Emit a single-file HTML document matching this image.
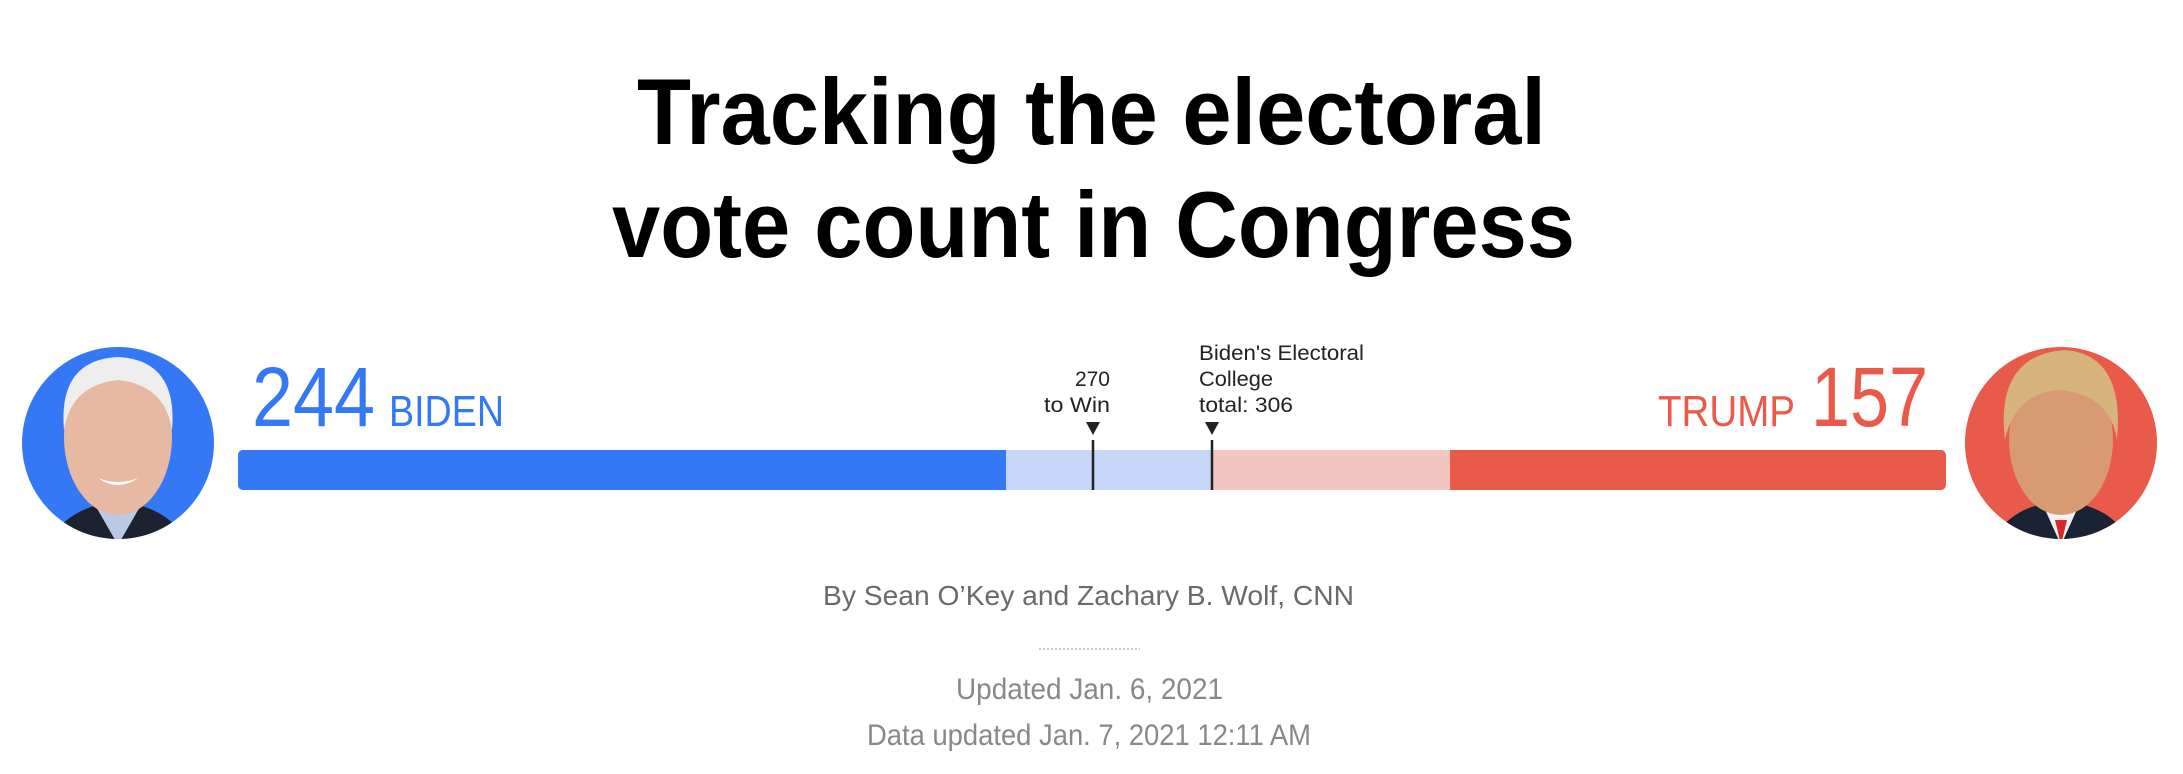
<!DOCTYPE html>
<html><head><meta charset="utf-8"><style>
html,body{margin:0;padding:0;background:#fff;width:2183px;height:774px;overflow:hidden}
svg{display:block}
</style></head><body>
<svg width="2183" height="774" viewBox="0 0 2183 774" xmlns="http://www.w3.org/2000/svg" font-family="Liberation Sans, sans-serif">
<!-- title -->
<text x="637" y="144" font-size="94" font-weight="bold" fill="#000" textLength="909" lengthAdjust="spacingAndGlyphs">Tracking the electoral</text>
<text x="612" y="257" font-size="94" font-weight="bold" fill="#000" textLength="963" lengthAdjust="spacingAndGlyphs">vote count in Congress</text>

<!-- Biden avatar -->
<defs>
<clipPath id="cb"><circle cx="118" cy="443" r="96"/></clipPath>
<clipPath id="ct"><circle cx="2061" cy="443" r="96"/></clipPath>
</defs>
<circle cx="118" cy="443" r="96" fill="#3478f6"/>
<g clip-path="url(#cb)">
<path d="M50 545 Q60 510 118 500 Q176 510 186 545 Z" fill="#1d2230"/>
<path d="M95 505 L118 545 L141 505 Z" fill="#b9c9e6"/>
<ellipse cx="118" cy="437" rx="54" ry="78" fill="#e8b9a2"/>
<path d="M64 430 Q58 360 118 357 Q178 360 172 430 Q165 385 118 380 Q71 385 64 430 Z" fill="#eeeeee"/>
<path d="M98 478 Q118 492 138 478 Q118 486 98 478 Z" fill="#fff"/>
</g>

<!-- Trump avatar -->
<circle cx="2061" cy="443" r="96" fill="#ea5a4b"/>
<g clip-path="url(#ct)">
<path d="M1993 545 Q2003 508 2061 500 Q2119 508 2129 545 Z" fill="#1a2235"/>
<path d="M2043 505 L2061 545 L2079 505 Z" fill="#f2f2f2"/>
<path d="M2055 520 L2061 545 L2067 520 Z" fill="#d42a2a"/>
<ellipse cx="2061" cy="440" rx="52" ry="75" fill="#d89a73"/>
<path d="M2005 440 Q1995 355 2065 350 Q2125 355 2117 440 Q2110 395 2061 390 Q2015 392 2005 440 Z" fill="#d7b47c"/>
</g>

<!-- numbers -->
<text x="252" y="426" font-size="84" fill="#3478f6" textLength="123" lengthAdjust="spacingAndGlyphs">244</text>
<text x="389" y="426" font-size="44" fill="#3478f6" textLength="115" lengthAdjust="spacingAndGlyphs">BIDEN</text>
<text x="1658" y="426" font-size="44" fill="#ea5a4b" textLength="137" lengthAdjust="spacingAndGlyphs">TRUMP</text>
<text x="1811" y="426" font-size="84" fill="#ea5a4b" textLength="117" lengthAdjust="spacingAndGlyphs">157</text>

<!-- bar -->
<rect x="238" y="450" width="1708" height="40" rx="5" fill="#ea5a4b"/>
<rect x="238" y="450" width="800" height="40" rx="5" fill="#3478f6"/>
<rect x="1006" y="450" width="206" height="40" fill="#c5d6f9"/>
<rect x="1212" y="450" width="238" height="40" fill="#f4c6c2"/>
<line x1="1093" y1="440" x2="1093" y2="490" stroke="#222" stroke-width="2.5"/>
<line x1="1212" y1="440" x2="1212" y2="490" stroke="#222" stroke-width="2.5"/>
<path d="M1086 422 L1100 422 L1093 435 Z" fill="#222"/>
<path d="M1205 422 L1219 422 L1212 435 Z" fill="#222"/>

<!-- labels -->
<g font-size="21" fill="#222">
<text x="1110" y="386" text-anchor="end">270</text>
<text x="1110" y="412" text-anchor="end" textLength="66" lengthAdjust="spacingAndGlyphs">to Win</text>
<text x="1199" y="360" textLength="165" lengthAdjust="spacingAndGlyphs">Biden's Electoral</text>
<text x="1199" y="386" textLength="74" lengthAdjust="spacingAndGlyphs">College</text>
<text x="1199" y="412" textLength="94" lengthAdjust="spacingAndGlyphs">total: 306</text>
</g>

<!-- byline -->
<text x="823" y="605" font-size="28" fill="#6a6a6a" textLength="531" lengthAdjust="spacingAndGlyphs">By Sean O’Key and Zachary B. Wolf, CNN</text>
<line x1="1039" y1="649" x2="1140" y2="649" stroke="#bbb" stroke-width="1.5" stroke-dasharray="2 2"/>
<text x="956" y="699" font-size="30" fill="#888" textLength="267" lengthAdjust="spacingAndGlyphs">Updated Jan. 6, 2021</text>
<text x="867" y="745" font-size="30" fill="#888" textLength="444" lengthAdjust="spacingAndGlyphs">Data updated Jan. 7, 2021 12:11 AM</text>
</svg>
</body></html>
